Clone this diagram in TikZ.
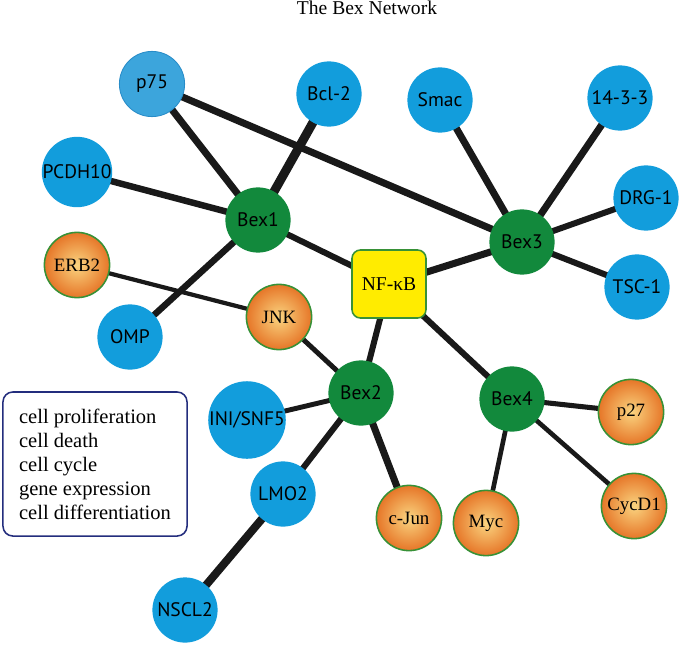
\documentclass[tikz,border=0pt]{standalone}
\usepackage{fontspec}
\setmainfont{Liberation Serif}
\newfontfamily\labelfont{PT Sans}
\usetikzlibrary{backgrounds}
\definecolor{bexblue}{RGB}{18,157,220}
\definecolor{paleblue}{RGB}{60,165,220}
\definecolor{paleline}{RGB}{40,140,200}
\definecolor{bexgreen}{RGB}{18,137,60}
\definecolor{ring}{RGB}{55,145,55}
\definecolor{nfyellow}{RGB}{255,236,0}
\definecolor{orangeout}{RGB}{230,118,40}
\definecolor{orangein}{RGB}{250,212,128}
\definecolor{navy}{RGB}{35,45,125}
\definecolor{linkgray}{RGB}{25,25,25}

\begin{document}
\begin{tikzpicture}[x=0.025cm, y=-0.025cm,
  gene/.style={circle, minimum size=1.63cm, inner sep=0pt,
    font=\labelfont\fontsize{13.9}{16}\selectfont},
  bluegene/.style={gene, fill=bexblue},
  bexgene/.style={gene, fill=bexgreen},
  orangegene/.style={gene, draw=ring, line width=1.1pt, inner color=orangein,
    outer color=orangeout, font=\fontsize{13.4}{16}\selectfont},
  link/.style={draw=linkgray, line width=#1}]
  \useasboundingbox (0,0) rectangle (682,644);
  \node[anchor=base, font=\fontsize{13.9}{16}\selectfont] (title) at (367,15) {The Bex Network};
  %% Bex proteins
  \node[bexgene] (bex1) at (258,220) {Bex1};
  \node[bexgene] (bex2) at (361,393) {Bex2};
  \node[bexgene] (bex3) at (522,242) {Bex3};
  \node[bexgene] (bex4) at (512,399) {Bex4};
  \node[draw=ring, line width=1.1pt, fill=nfyellow, rounded corners=6pt,
    minimum width=1.85cm, minimum height=1.7cm, font=\fontsize{13.9}{16}\selectfont]
    (nfkb) at (389,284) {NF-κB};
  %% Partners
  \node[gene, fill=paleblue, draw=paleline, line width=0.6pt] (p75) at (152,84) {p75};
  \node[bluegene] (bcl2) at (329,94) {Bcl-2};
  \node[bluegene] (smac) at (440,100) {Smac};
  \node[bluegene] (f1433) at (620,98) {14-3-3};
  \node[bluegene] (pcdh) at (77,172) {PCDH10};
  \node[bluegene] (drg) at (646,198) {DRG-1};
  \node[bluegene] (tsc) at (637,287) {TSC-1};
  \node[bluegene] (omp) at (130,337) {OMP};
  \node[bluegene] (ini) at (247,420) {INI/SNF5};
  \node[bluegene] (lmo) at (283,494) {LMO2};
  \node[bluegene] (nscl) at (185,610) {NSCL2};
  \node[orangegene] (erb) at (77,265) {ERB2};
  \node[orangegene] (jnk) at (279,317) {JNK};
  \node[orangegene] (p27) at (631,412) {p27};
  \node[orangegene] (cjun) at (409,518) {c-Jun};
  \node[orangegene] (myc) at (486,523) {Myc};
  \node[orangegene] (cyc) at (634,506) {CycD1};
  %% Legend
  \node[draw=navy, line width=1.1pt, rounded corners=7pt, minimum width=4.6cm,
    minimum height=3.6cm, align=left, font=\fontsize{14.6}{17.07}\selectfont]
    (legend) at (95,464) {cell proliferation\\cell death\\cell cycle\\gene expression\\cell differentiation};
  %% Connections
  \begin{scope}[on background layer]
    \draw[link=5pt] (p75.center) -- (bex1.center);
    \draw[link=5pt] (p75.center) -- (bex3.center);
    \draw[link=6.4pt] (bcl2.center) -- (bex1.center);
    \draw[link=4.6pt] (pcdh.center) -- (bex1.center);
    \draw[link=4.6pt] (omp.center) -- (bex1.center);
    \draw[link=4.3pt] (bex1.center) -- (nfkb.center);
    \draw[link=3pt] (erb.center) -- (jnk.center);
    \draw[link=5pt] (smac.center) -- (bex3.center);
    \draw[link=5pt] (f1433.center) -- (bex3.center);
    \draw[link=4.3pt] (drg.center) -- (bex3.center);
    \draw[link=4.3pt] (tsc.center) -- (bex3.center);
    \draw[link=5pt] (nfkb.center) -- (bex3.center);
    \draw[link=4.3pt] (nfkb.center) -- (bex2.center);
    \draw[link=4.3pt] (nfkb.center) -- (bex4.center);
    \draw[link=3.5pt] (jnk.center) -- (bex2.center);
    \draw[link=3.5pt] (ini.center) -- (bex2.center);
    \draw[link=4.3pt] (bex2.center) -- (lmo.center);
    \draw[link=5pt] (bex2.center) -- (cjun.center);
    \draw[link=5.7pt] (lmo.center) -- (nscl.center);
    \draw[link=3.6pt] (bex4.center) -- (p27.center);
    \draw[link=3.3pt] (bex4.center) -- (myc.center);
    \draw[link=3.3pt] (bex4.center) -- (cyc.center);
  \end{scope}
\end{tikzpicture}
\end{document}
